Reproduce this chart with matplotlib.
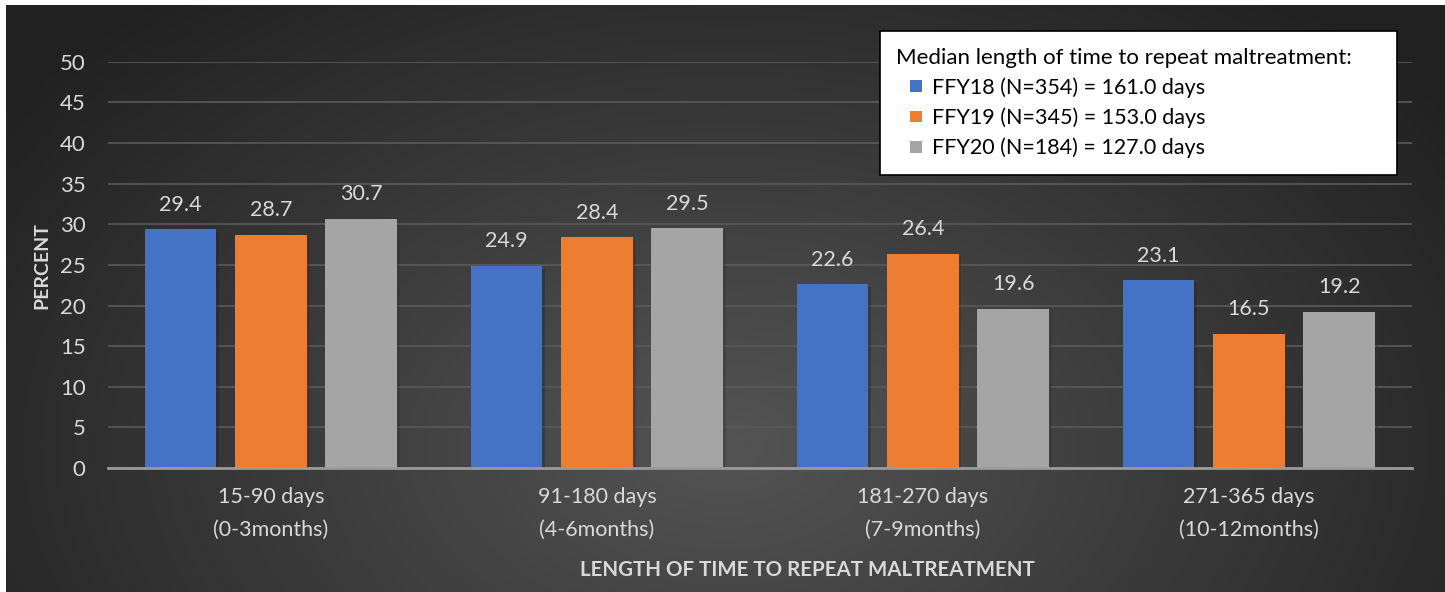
import numpy as np
import matplotlib.pyplot as plt
from matplotlib import patheffects as pe
from matplotlib.patches import Rectangle
from matplotlib.legend_handler import HandlerPatch

plt.rcParams['font.family'] = ['Lato', 'DejaVu Sans']

categories = ['15-90 days\n(0-3months)', '91-180 days\n(4-6months)',
              '181-270 days\n(7-9months)', '271-365 days\n(10-12months)']
series_names = ['FFY18 (N=354) = 161.0 days',
                'FFY19 (N=345) = 153.0 days',
                'FFY20 (N=184) = 127.0 days']
ffy18 = [29.4, 24.9, 22.6, 23.1]
ffy19 = [28.7, 28.4, 26.4, 16.5]
ffy20 = [30.7, 29.5, 19.6, 19.2]
colors = ['#4472c4', '#ed7d31', '#a5a5a5']

fig = plt.figure(figsize=(14.45, 5.92), dpi=100)
fig.patch.set_facecolor('white')

# gradient background of the chart area
bg = fig.add_axes([0.004, 0, 0.996, 0.991])
bg.set_axis_off()
yy, xx = np.mgrid[0:1:300j, 0:1:700j]
r = np.sqrt(((xx - 0.5) / 0.62) ** 2 + ((yy - 0.25) / 1.0) ** 2)
shade = np.clip(0.33 - 0.2 * r, 0.13, 0.33)
bg.imshow(np.dstack([shade] * 3), extent=[0, 1, 0, 1], aspect='auto', origin='lower')

ax = fig.add_axes([0.0747, 0.2095, 0.9023, 0.686])
ax.set_facecolor('none')

x = np.arange(len(categories))
w = 0.22
off = 0.277
shadow = [pe.SimplePatchShadow(offset=(2, -2), alpha=0.35), pe.Normal()]
handles = []
for i, vals in enumerate([ffy18, ffy19, ffy20]):
    bars = ax.bar(x + (i - 1) * off, vals, w, color=colors[i], zorder=3)
    for b in bars:
        b.set_path_effects(shadow)
    handles.append(bars[0])
    for xi, v in zip(x + (i - 1) * off, vals):
        ax.text(xi, v + 1.8, f'{v:.1f}', ha='center', va='bottom',
                color='#d9d9d9', fontsize=15.5)

ax.set_xlim(-0.5, 3.5)
ax.set_ylim(0, 50)
ax.set_yticks(range(0, 51, 5))
ax.set_xticks(x)
ax.set_xticklabels(categories, linespacing=1.75)
ax.tick_params(axis='both', length=0, colors='#d9d9d9', labelsize=15.5)
ax.tick_params(axis='x', pad=14)
ax.tick_params(axis='y', pad=16, labelsize=16)
ax.grid(axis='y', color='#5a5a5a', linewidth=1.2, zorder=0)
for s in ['top', 'right', 'left']:
    ax.spines[s].set_visible(False)
ax.spines['bottom'].set_color('#9a9a9a')
ax.spines['bottom'].set_linewidth(2)
ax.spines['bottom'].set_zorder(4)

fig.text(0.0291, 0.552, 'PERCENT', rotation=90, ha='center', va='center',
         color='#d9d9d9', fontsize=14, fontweight='bold')
fig.text(0.559, 0.037, 'LENGTH OF TIME TO REPEAT MALTREATMENT', ha='center',
         va='center', color='#d9d9d9', fontsize=14.8, fontweight='bold')


def small_square(legend, orig_handle, xdescent, ydescent, width, height, fontsize):
    s = 0.55 * fontsize
    return Rectangle((width - s - xdescent, (height - s) / 2 - ydescent), s, s)


leg = fig.legend(handles, series_names, title='Median length of time to repeat maltreatment:',
                 loc='upper left', bbox_to_anchor=(0.609, 0.709, 0.358, 0.238),
                 mode='expand', frameon=True,
                 fancybox=False, edgecolor='black', facecolor='white', framealpha=1,
                 fontsize=15.5, title_fontsize=16, handlelength=1.2,
                 handletextpad=0.45, labelspacing=0.45, borderpad=0.75,
                 borderaxespad=0, alignment='left',
                 handler_map={Rectangle: HandlerPatch(patch_func=small_square)})
leg.get_frame().set_linewidth(1.2)
for h in leg.legend_handles:
    h.set_path_effects([])
for t in leg.get_texts():
    t.set_color('black')

fig.savefig('out.png', dpi=100, facecolor=fig.get_facecolor())
